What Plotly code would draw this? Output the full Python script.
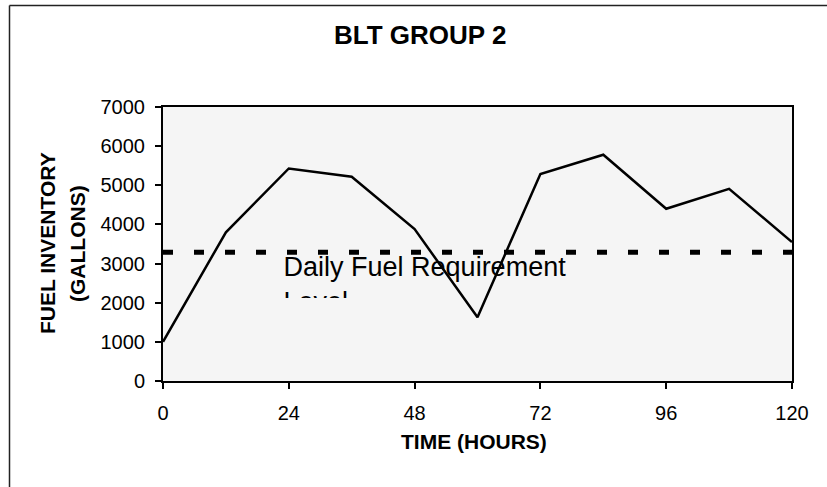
import plotly.graph_objects as go

# ---- data ----
hours = [0, 12, 24, 36, 48, 60, 72, 84, 96, 108, 120]
fuel_inventory = [1000, 3800, 5430, 5220, 3880, 1630, 5290, 5780, 4400, 4910, 3550]
daily_requirement = 3290
x_ticks = [0, 24, 48, 72, 96, 120]
y_ticks = [0, 1000, 2000, 3000, 4000, 5000, 6000, 7000]
title_text = "BLT GROUP 2"
x_title = "TIME (HOURS)"
y_title_lines = ["FUEL INVENTORY", "(GALLONS)"]
req_label = "Daily Fuel Requirement<br>Level"
req_label_pos = (23.0, 3200)

W, H = 827, 487
L, R, T, B = 163, 35, 107, 106
pw, ph = W - L - R, H - T - B

def px_x(px):
    return (px - L) / pw

def px_y(py):
    return (H - B - py) / ph

FONT = "Liberation Sans, Arial, sans-serif"
BG = "#f5f5f5"

fig = go.Figure()

# requirement dashed line
fig.add_trace(go.Scatter(
    x=[x_ticks[0], x_ticks[-1]], y=[daily_requirement, daily_requirement],
    mode="lines", line=dict(color="black", width=5, dash="10px,21px"),
    hoverinfo="skip", showlegend=False))

# label (text trace so it is clipped like the original)
fig.add_trace(go.Scatter(
    x=[req_label_pos[0]], y=[req_label_pos[1]], mode="text",
    text=[req_label], textposition="bottom right",
    textfont=dict(family=FONT, size=27, color="black"),
    hoverinfo="skip", showlegend=False))

# fuel inventory line
fig.add_trace(go.Scatter(
    x=hours, y=fuel_inventory, mode="lines",
    line=dict(color="black", width=2.5),
    showlegend=False))

shapes = [
    # mask clipping lower part of label second line
    dict(type="rect", xref="paper", yref="paper",
         x0=px_x(280), x1=px_x(370), y0=px_y(322), y1=px_y(298),
         fillcolor=BG, line=dict(width=0), layer="above"),
    # outer frame (top + left)
    dict(type="line", xref="paper", yref="paper",
         x0=px_x(9.5), x1=px_x(830), y0=px_y(5.5), y1=px_y(5.5),
         line=dict(color="#222", width=1.5)),
    dict(type="line", xref="paper", yref="paper",
         x0=px_x(9.5), x1=px_x(9.5), y0=px_y(5.5), y1=px_y(492),
         line=dict(color="#222", width=1.5)),
]

annotations = [
    dict(text=f"<b>{title_text}</b>", xref="paper", yref="paper",
         x=px_x(420), y=px_y(35), xanchor="center", yanchor="middle",
         showarrow=False, font=dict(family=FONT, size=26, color="black")),
    dict(text=f"<b>{x_title}</b>", xref="paper", yref="paper",
         x=px_x(474), y=px_y(441), xanchor="center", yanchor="middle",
         showarrow=False, font=dict(family=FONT, size=21, color="black")),
    dict(text=f"<b>{y_title_lines[0]}</b>", xref="paper", yref="paper",
         x=px_x(47), y=px_y(243), xanchor="center", yanchor="middle",
         textangle=-90, showarrow=False,
         font=dict(family=FONT, size=21, color="black")),
    dict(text=f"<b>{y_title_lines[1]}</b>", xref="paper", yref="paper",
         x=px_x(77), y=px_y(244), xanchor="center", yanchor="middle",
         textangle=-90, showarrow=False,
         font=dict(family=FONT, size=21, color="black")),
]

fig.update_layout(
    width=W, height=H,
    margin=dict(l=L, r=R, t=T, b=B, pad=0),
    paper_bgcolor="white", plot_bgcolor=BG,
    shapes=shapes, annotations=annotations,
    showlegend=False,
)
fig.update_xaxes(
    range=[x_ticks[0], x_ticks[-1]], tickvals=x_ticks,
    ticks="outside", ticklen=6, tickwidth=1.5, tickcolor="black",
    showline=True, linecolor="black", linewidth=2, mirror=True,
    showgrid=False, zeroline=False, ticklabelstandoff=7,
    tickfont=dict(family=FONT, size=20, color="black"))
fig.update_yaxes(
    range=[y_ticks[0], y_ticks[-1]], tickvals=y_ticks,
    ticks="outside", ticklen=6, tickwidth=1.5, tickcolor="black",
    showline=True, linecolor="black", linewidth=2, mirror=True,
    showgrid=False, zeroline=False, ticklabelstandoff=6,
    tickfont=dict(family=FONT, size=20, color="black"))

fig.write_html("out.html", config={"displayModeBar": False},
               post_script="document.body.style.margin='0';")
